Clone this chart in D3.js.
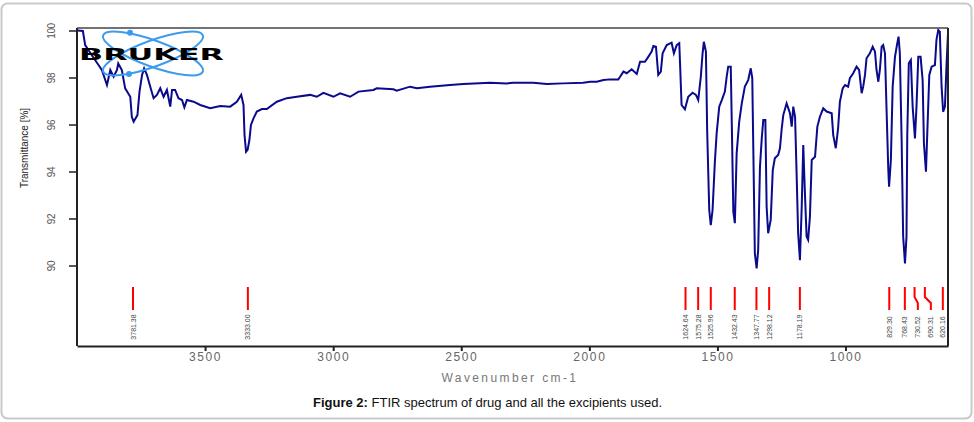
<!DOCTYPE html>
<html><head><meta charset="utf-8">
<script src="https://cdn.jsdelivr.net/npm/d3@7"></script>
<style>
html,body{margin:0;padding:0;background:#fff;}
svg{display:block;}
</style></head>
<body>
<svg id="chart" width="974" height="422"></svg>
<script>
// ---- data ----
const wavenumbers = [3998,3977,3968,3935,3916,3903,3883,3870,3857,3844,3839,3825,3812,3792,3786,3779,3764,3756,3746,3738,3727,3714,3701,3688,3675,3662,3649,3636,3629,3617,3604,3590,3581,3571,3545,3519,3480,3441,3402,3376,3359,3350,3346,3340,3334,3327,3321,3311,3298,3278,3259,3220,3181,3142,3090,3064,3038,2999,2973,2934,2901,2843,2830,2765,2752,2700,2673,2622,2544,2492,2388,2322,2297,2219,2166,2102,2024,1997,1971,1945,1919,1887,1880,1867,1854,1835,1815,1802,1783,1770,1757,1750,1740,1731,1721,1714,1698,1679,1670,1659,1649,1646,1640,1627,1614,1597,1584,1575,1565,1558,1553,1545,1540,1532,1526,1519,1510,1503,1493,1483,1471,1464,1458,1448,1444,1438,1432,1425,1415,1405,1393,1380,1370,1364,1360,1354,1347,1341,1334,1327,1321,1313,1308,1302,1292,1284,1276,1263,1256,1249,1243,1230,1217,1210,1204,1197,1191,1185,1178,1171,1165,1159,1152,1146,1139,1132,1119,1110,1100,1087,1074,1054,1048,1038,1029,1022,1011,1002,990,983,970,957,947,937,931,924,918,905,894,885,879,872,866,859,853,846,840,833,830,823,816,807,798,793,788,781,775,768,762,759,753,745,738,729,723,716,707,699,694,686,680,673,664,651,645,638,632,625,619,612,606,600];
const transmittance = [100.0,99.98,99.38,98.83,98.53,98.32,97.68,98.32,98.03,98.32,98.60,98.32,97.54,97.18,96.33,96.12,96.40,97.40,98.11,98.39,98.11,97.61,97.12,97.26,97.54,97.18,97.47,96.76,97.47,97.47,97.12,97.04,96.73,97.04,96.97,96.83,96.69,96.79,96.76,96.97,97.26,96.83,95.55,94.84,94.92,95.34,95.98,96.26,96.55,96.66,96.66,96.97,97.12,97.18,97.26,97.18,97.35,97.18,97.33,97.18,97.40,97.47,97.54,97.50,97.44,97.61,97.54,97.61,97.68,97.72,97.78,97.75,97.78,97.78,97.72,97.75,97.78,97.82,97.82,97.89,97.92,97.92,98.03,98.25,98.18,98.35,98.15,98.67,98.67,98.88,99.10,99.34,99.31,98.11,98.25,99.03,99.38,99.48,99.03,99.38,99.46,98.60,96.83,96.65,97.18,97.35,97.26,97.04,98.03,99.03,99.52,99.10,95.69,92.36,91.72,92.36,94.42,95.63,96.76,97.04,97.40,98.03,98.46,98.46,96.05,92.29,91.80,94.77,96.12,96.90,97.61,97.89,98.39,97.97,94.99,90.52,89.88,90.66,94.20,95.41,96.19,96.19,92.50,91.37,91.94,94.06,94.56,94.70,94.99,95.84,96.40,96.90,96.48,95.91,96.76,96.33,93.92,91.37,90.23,92.50,95.13,93.21,91.23,91.09,92.08,94.49,94.63,95.91,96.33,96.69,96.55,96.48,95.55,94.99,95.84,96.97,97.54,97.68,97.61,97.97,98.18,98.46,98.32,97.33,97.61,98.11,98.82,99.03,99.31,99.10,98.32,97.82,98.32,99.31,99.38,99.03,96.69,94.06,93.35,94.49,97.61,98.88,99.46,99.74,99.03,95.34,91.23,90.09,91.23,95.55,98.60,98.74,96.76,95.41,96.76,98.88,98.88,97.89,95.20,93.99,95.91,98.11,98.46,98.53,99.60,100.02,99.95,97.61,96.54,96.76,98.46,99.88];
const peakWavenumbers = [3781.38,3333.00,1624.64,1575.28,1525.96,1432.43,1347.77,1298.12,1178.19,829.30,768.43,730.52,690.31,620.16];
const xTicks = [3500,3000,2500,2000,1500,1000];
const yTicks = [90,92,94,96,98,100];
const xTitle = "Wavenumber cm-1";
const yTitle = "Transmittance [%]";
const captionBold = "Figure 2:";
const captionText = " FTIR spectrum of drug and all the excipients used.";

// ---- layout ----
const svg = d3.select("#chart");
const L = 77, R = 948, T = 28, B = 346;
const x = d3.scaleLinear().domain([4000, 600]).range([L, R]);
const y = d3.scaleLinear().domain([90, 100]).range([265.5, 30.5]);
const font = "'Liberation Sans', Arial, sans-serif";

// outer rounded frame
svg.append("rect").attr("x",1.5).attr("y",3.5).attr("width",970).attr("height",415)
  .attr("rx",6).attr("fill","none").attr("stroke","#c9c9c9").attr("stroke-width",2);

// clip
svg.append("clipPath").attr("id","clip").append("rect")
  .attr("x",L).attr("y",T).attr("width",R-L).attr("height",B-T);

// spectrum
const pts = wavenumbers.map((w,i)=>[w, transmittance[i]]);
svg.append("path").datum(pts)
  .attr("clip-path","url(#clip)")
  .attr("fill","none").attr("stroke","#0a0a8c").attr("stroke-width",2)
  .attr("stroke-linejoin","miter")
  .attr("d", d3.line().x(d=>x(d[0])).y(d=>y(d[1])));

// plot frame
svg.append("line").attr("x1",L).attr("x2",R).attr("y1",T).attr("y2",T).attr("stroke","#444").attr("stroke-width",1.5);
svg.append("line").attr("x1",R).attr("x2",R).attr("y1",T).attr("y2",B).attr("stroke","#222").attr("stroke-width",2);

// axes
const xAxis = svg.append("g").attr("transform",`translate(0,${B})`)
  .call(d3.axisBottom(x).tickValues(xTicks).tickSize(5).tickSizeOuter(0).tickFormat(d3.format("d")));
xAxis.select(".domain").attr("stroke","#222").attr("stroke-width",2);
xAxis.selectAll(".tick line").attr("stroke","#222").attr("stroke-width",2);
xAxis.selectAll(".tick text").attr("font-family",font).attr("font-size",12).attr("fill","#666")
  .attr("letter-spacing","1.6px").attr("dy","0.55em");

const yAxis = svg.append("g").attr("transform",`translate(${L},0)`)
  .call(d3.axisLeft(y).tickValues(yTicks).tickSize(8).tickSizeOuter(0).tickFormat(d3.format("d")));
yAxis.select(".domain").attr("d",`M0,${T}V${B}`).attr("stroke","#222").attr("stroke-width",2);
yAxis.selectAll(".tick line").attr("stroke","#222").attr("stroke-width",1.5);
yAxis.selectAll(".tick text").remove();
yAxis.selectAll(".tick").append("text")
  .attr("transform","translate(-26,0) rotate(-90)")
  .attr("text-anchor","middle").attr("dominant-baseline","central")
  .attr("font-family",font).attr("font-size",10).attr("letter-spacing","-0.4px").attr("fill","#555")
  .text(d=>d);

// axis titles
svg.append("text").attr("x",510).attr("y",382).attr("text-anchor","middle")
  .attr("font-family",font).attr("font-size",12).attr("fill","#777").attr("letter-spacing","2.4px")
  .text(xTitle);
svg.append("text").attr("transform","translate(24,148) rotate(-90)")
  .attr("text-anchor","middle").attr("dominant-baseline","central")
  .attr("font-family",font).attr("font-size",10).attr("fill","#222")
  .text(yTitle);

// peak markers
const gap = 13;
const peakX = peakWavenumbers.map(w=>x(w));
const labelX = [];
peakX.forEach((px,i)=>{
  let lx = px;
  if (i>0 && labelX[i-1] + gap - lx > 1.5) lx = labelX[i-1] + gap;
  labelX.push(lx);
});
const pg = svg.append("g");
peakWavenumbers.forEach((w,i)=>{
  const px = peakX[i], lx = labelX[i];
  const d = Math.abs(lx-px) < 0.01 ? `M${px},287V310` : `M${px},287V297L${lx},303V310`;
  pg.append("path").attr("d",d).attr("fill","none").attr("stroke","#ff0000").attr("stroke-width",2);
  pg.append("text").attr("transform",`translate(${lx},327) rotate(-90)`)
    .attr("text-anchor","middle").attr("dominant-baseline","central")
    .attr("font-family",font).attr("font-size",7).attr("fill","#444")
    .text(w.toFixed(2));
});

// Bruker logo
const logo = svg.append("g");
const lg = logo.append("g").attr("transform","translate(153,53.5)");
[20,-20].forEach(a=>{
  lg.append("ellipse").attr("rx",53).attr("ry",13).attr("transform",`rotate(${a})`)
    .attr("fill","none").attr("stroke","#3b9bef").attr("stroke-width",2);
});
logo.append("circle").attr("cx",130).attr("cy",32.7).attr("r",3).attr("fill","#3b9bef");
logo.append("circle").attr("cx",129).attr("cy",74).attr("r",3).attr("fill","#3b9bef");
logo.append("text").attr("x",79).attr("y",60).attr("textLength",145).attr("lengthAdjust","spacingAndGlyphs")
  .attr("font-family","'DejaVu Sans', sans-serif").attr("font-weight","bold").attr("font-size",15)
  .attr("fill","#000").text("BRUKER");

// caption
const cap = svg.append("text").attr("x",313).attr("y",407)
  .attr("font-family",font).attr("font-size",13).attr("fill","#111");
cap.append("tspan").attr("font-weight","bold").text(captionBold);
cap.append("tspan").text(captionText);
</script>
</body></html>
